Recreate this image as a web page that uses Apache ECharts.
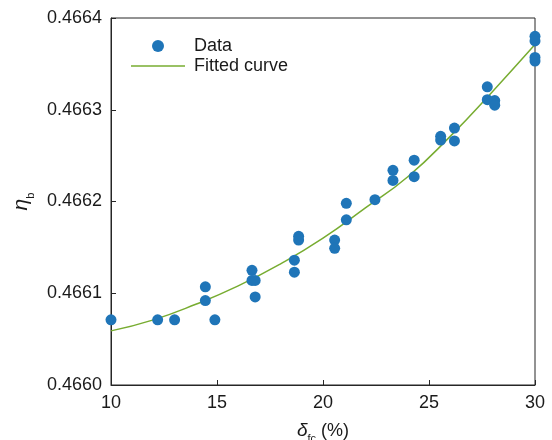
<!DOCTYPE html>
<html>
<head>
<meta charset="utf-8">
<script src="https://cdn.jsdelivr.net/npm/echarts@6/dist/echarts.min.js"></script>
<style>
html,body{margin:0;padding:0;background:#fff;}
#chart{width:552px;height:440px;}
</style>
</head>
<body>
<div id="chart"></div>
<script>
// Measured data points
var dataX = [10.0, 12.2, 13.0, 14.45, 14.45, 14.9, 16.65, 16.65, 16.8, 16.8,
  18.65, 18.65, 18.85, 18.85, 20.55, 20.55, 21.1, 21.1, 22.45, 23.3, 23.3,
  24.3, 24.3, 25.55, 25.55, 26.2, 26.2, 27.75, 27.75, 28.1, 28.1, 30, 30, 30, 30];
var dataY = [0.466071, 0.466071, 0.466071, 0.466107, 0.466092, 0.466071, 0.466125, 0.466114, 0.466114, 0.466096,
  0.466136, 0.466123, 0.466162, 0.466158, 0.466158, 0.466149, 0.466198, 0.466180, 0.466202, 0.466234, 0.466223,
  0.466245, 0.466227, 0.466271, 0.466267, 0.466280, 0.466266, 0.466325, 0.466311, 0.466310, 0.466305,
  0.466380, 0.466375, 0.466357, 0.466353];
// Fitted curve
var curveX = [10, 12, 14, 16, 18, 20, 22, 24, 26, 28, 30];
var curveY = [0.466059, 0.466071, 0.466088, 0.466108, 0.466132, 0.466160, 0.466193, 0.466227, 0.466271, 0.466320, 0.466371];
var xTicks = [10, 15, 20, 25, 30];
var yTicks = [0.4660, 0.4661, 0.4662, 0.4663, 0.4664];

var FONT = "'Liberation Sans', Arial, sans-serif";
var AX = '#262626';

var chart = echarts.init(document.getElementById('chart'), null, {renderer: 'canvas'});
var scatterData = dataX.map(function (x, i) { return [x, dataY[i]]; });
var lineData = curveX.map(function (x, i) { return [x, curveY[i]]; });

chart.setOption({
  animation: false,
  backgroundColor: '#fff',
  grid: {left: 111, right: 17, top: 18, bottom: 55, containLabel: false, outerBoundsMode: 'none',
    show: true, borderColor: AX, borderWidth: 1, backgroundColor: 'transparent'},
  legend: {
    left: 131, top: 36, padding: 0, orient: 'vertical', itemWidth: 54, itemHeight: 12, itemGap: 0,
    textStyle: {fontFamily: FONT, fontSize: 18, color: '#1a1a1a', lineHeight: 20, padding: [0, 0, 0, 4]},
    data: [
      {name: 'Data', icon: 'circle'},
      {name: 'Fitted curve', icon: 'path://M0,0L54,0L54,1.5L0,1.5Z'}
    ]
  },
  xAxis: {
    type: 'value', min: xTicks[0], max: xTicks[xTicks.length - 1], interval: 5,
    axisLine: {show: true, lineStyle: {color: AX, width: 1}},
    axisTick: {show: true, inside: true, length: 5, lineStyle: {color: AX}},
    splitLine: {show: false},
    axisLabel: {fontFamily: FONT, fontSize: 18, color: '#1a1a1a', margin: 9},
    name: '{i|δ}{s|fc}{n| (%)}', nameLocation: 'middle', nameGap: 33,
    nameTextStyle: {
      fontFamily: FONT, color: '#1a1a1a', fontSize: 18,
      rich: {
        i: {fontFamily: FONT, fontStyle: 'italic', fontSize: 19, color: '#1a1a1a', verticalAlign: 'bottom', lineHeight: 22},
        s: {fontFamily: FONT, fontSize: 11, color: '#1a1a1a', verticalAlign: 'bottom', lineHeight: 14, padding: [0, 0, -4, 0]},
        n: {fontFamily: FONT, fontSize: 18, color: '#1a1a1a', verticalAlign: 'bottom', lineHeight: 22}
      }
    }
  },
  yAxis: {
    type: 'value', min: 0.466, max: 0.4664, interval: 0.0001,
    axisLine: {show: true, lineStyle: {color: AX, width: 1}},
    axisTick: {show: true, inside: true, length: 5, lineStyle: {color: AX}},
    splitLine: {show: false},
    axisLabel: {fontFamily: FONT, fontSize: 18, color: '#1a1a1a', margin: 9,
      formatter: function (v) { return v.toFixed(4); }},
    name: '{i|η}{s|b}', nameLocation: 'middle', nameGap: 78, nameRotate: 90,
    nameTextStyle: {
      fontFamily: FONT, color: '#1a1a1a', fontSize: 18,
      rich: {
        i: {fontFamily: FONT, fontStyle: 'italic', fontSize: 21, color: '#1a1a1a', verticalAlign: 'bottom', lineHeight: 22},
        s: {fontFamily: FONT, fontSize: 11, color: '#1a1a1a', verticalAlign: 'bottom', lineHeight: 14, padding: [0, 0, -4, 0]}
      }
    }
  },
  series: [
    {
      name: 'Fitted curve', type: 'line', data: lineData, smooth: 0.5, showSymbol: false, symbol: 'none',
      lineStyle: {color: '#77ac30', width: 1.5}, itemStyle: {color: '#77ac30'}, z: 2, clip: false
    },
    {
      name: 'Data', type: 'scatter', data: scatterData, symbol: 'circle', symbolSize: 11,
      itemStyle: {color: '#1f75b8', opacity: 1}, z: 3, clip: false
    }
  ]
});
</script>
</body>
</html>
